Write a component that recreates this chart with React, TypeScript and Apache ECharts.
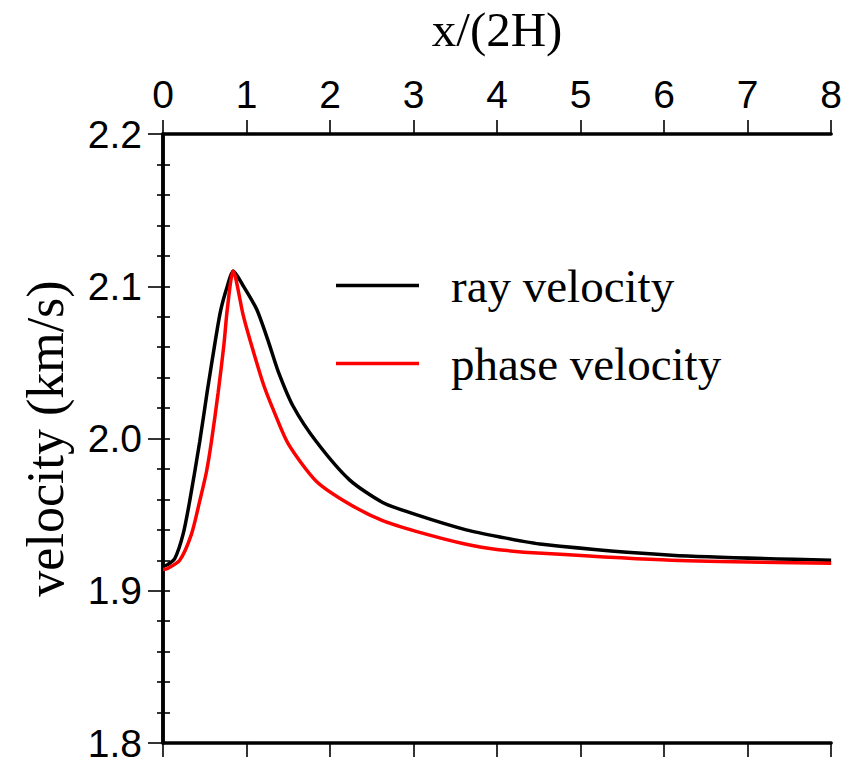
import React, { useEffect, useRef } from "react";
import * as echarts from "echarts";

const rayX = [0, 0.05, 0.14, 0.24, 0.32, 0.44, 0.53, 0.62, 0.69, 0.77, 0.84, 0.958, 1.12, 1.26, 1.38, 1.56, 1.835, 2.23, 2.63, 3.03, 3.63, 4.02, 4.54, 6.09, 8];
const rayV = [1.916, 1.917, 1.921, 1.937, 1.959, 1.998, 2.031, 2.062, 2.084, 2.1, 2.11, 2.1005, 2.085, 2.064, 2.044, 2.021, 1.998, 1.973, 1.958, 1.95, 1.94, 1.9355, 1.9305, 1.9233, 1.92];

const phaseX = [0, 0.05, 0.2, 0.34, 0.44, 0.52, 0.58, 0.66, 0.73, 0.77, 0.84, 0.96, 1.04, 1.2, 1.32, 1.5, 1.835, 2.23, 2.63, 3.03, 3.63, 4.02, 4.54, 6.09, 8];
const phaseV = [1.914, 1.9145, 1.92, 1.937, 1.959, 1.978, 1.998, 2.03, 2.062, 2.085, 2.11, 2.081, 2.065, 2.036, 2.019, 1.9965, 1.972, 1.957, 1.946, 1.939, 1.9305, 1.927, 1.9246, 1.92, 1.918];

const xTicks = ["0", "1", "2", "3", "4", "5", "6", "7", "8"];
const seriesNames = ["ray velocity", "phase velocity"];
const seriesColors = ["#000000", "#ff0000"];

const pairs = (xs: number[], ys: number[]) => xs.map((x, i) => [x, ys[i]]);

export default function App() {
  const ref = useRef<HTMLDivElement>(null);
  useEffect(() => {
    if (!ref.current) return;
    const chart = echarts.init(ref.current, null, { renderer: "svg" });
    const sans = "Liberation Sans";
    const serif = "Liberation Serif";
    const axisLine = { show: true, lineStyle: { color: "#000", width: 3.5 } };
    const tickStyle = { color: "#000", width: 1.6 };
    chart.setOption({
      animation: false,
      backgroundColor: "#fff",
      grid: { left: 163, top: 131, width: 670, height: 612, containLabel: false },
      legend: {
        orient: "vertical",
        left: 331,
        top: 255,
        icon: "rect",
        itemWidth: 83,
        itemHeight: 3.5,
        itemGap: 27,
        data: seriesNames,
        textStyle: { fontFamily: serif, fontSize: 47, color: "#000", lineHeight: 51, padding: [0, 0, 0, 27] },
      },
      xAxis: [
        {
          type: "value",
          position: "top",
          min: 0,
          max: 8,
          interval: 1,
          name: "x/(2H)",
          nameLocation: "middle",
          nameGap: 80,
          nameTextStyle: { fontFamily: serif, fontSize: 49, color: "#000" },
          axisLine,
          axisTick: { show: true, inside: false, length: 14, lineStyle: tickStyle },
          axisLabel: {
            fontFamily: sans,
            fontSize: 39,
            color: "#000",
            margin: 20,
            formatter: (v: number) => xTicks[Math.round(v)] ?? "",
          },
          splitLine: { show: false },
        },
        {
          type: "value",
          position: "bottom",
          min: 0,
          max: 8,
          interval: 1,
          axisLine,
          axisTick: { show: true, inside: false, length: 14, lineStyle: tickStyle },
          axisLabel: { show: false },
          splitLine: { show: false },
        },
      ],
      yAxis: [
        {
          type: "value",
          position: "left",
          min: 1.8,
          max: 2.2,
          interval: 0.1,
          name: "velocity (km/s)",
          nameLocation: "middle",
          nameGap: 92,
          nameRotate: 90,
          nameTextStyle: { fontFamily: serif, fontSize: 52, color: "#000" },
          axisLine,
          axisTick: { show: true, inside: false, length: 15, lineStyle: tickStyle },
          minorTick: { show: true, splitNumber: 5, length: 6, lineStyle: tickStyle },
          axisLabel: {
            fontFamily: sans,
            fontSize: 39,
            color: "#000",
            margin: 21,
            formatter: (v: number) => v.toFixed(1),
          },
          splitLine: { show: false },
        },
        {
          type: "value",
          position: "right",
          min: 1.8,
          max: 2.2,
          interval: 0.02,
          axisLine,
          axisTick: { show: true, inside: false, length: 7, lineStyle: tickStyle },
          axisLabel: { show: false },
          splitLine: { show: false },
        },
      ],
      series: [
        {
          name: seriesNames[0],
          type: "line",
          xAxisIndex: 0,
          yAxisIndex: 0,
          data: pairs(rayX, rayV),
          showSymbol: false,
          symbol: "none",
          smooth: 0.25,
          color: seriesColors[0],
          lineStyle: { color: seriesColors[0], width: 3.5 },
        },
        {
          name: seriesNames[1],
          type: "line",
          xAxisIndex: 0,
          yAxisIndex: 0,
          data: pairs(phaseX, phaseV),
          showSymbol: false,
          symbol: "none",
          smooth: 0.25,
          color: seriesColors[1],
          lineStyle: { color: seriesColors[1], width: 3.5 },
        },
      ],
    });
    return () => chart.dispose();
  }, []);
  return <div ref={ref} style={{ width: 845, height: 763, position: "absolute", left: 0, top: 0 }} />;
}
